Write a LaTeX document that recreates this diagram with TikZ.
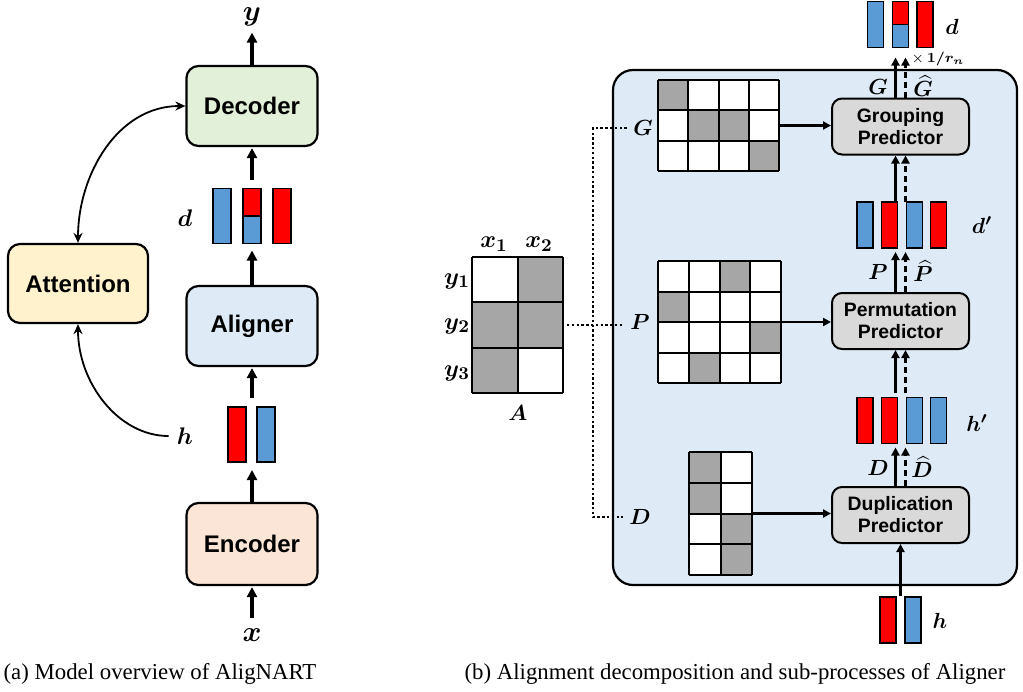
\documentclass[tikz,border=0pt]{standalone}
\usepackage{amsmath}
\usepackage{bm}
\usepackage{fontspec}
\setmainfont{Liberation Serif}
\setsansfont{Liberation Sans}
\usetikzlibrary{arrows.meta,calc}

\definecolor{barred}{HTML}{FF0000}
\definecolor{barblue}{HTML}{5B9BD5}
\definecolor{cellgray}{HTML}{A6A6A6}
\definecolor{decfill}{HTML}{E2F0D9}
\definecolor{attfill}{HTML}{FFF2CC}
\definecolor{alifill}{HTML}{DEEBF7}
\definecolor{encfill}{HTML}{FBE5D6}
\definecolor{predfill}{HTML}{D9D9D9}
\definecolor{bgblue}{HTML}{DEEAF6}

% cells of a binary alignment matrix: node, columns, rows, cell width, cell height, shaded cells
\newcommand\gridcells[6]{%
  \begin{scope}[shift={(#1.north west)}]
    \fill[white] (0,0) rectangle (#2*#4,#3*#5);
    \foreach \cx/\ry in {#6}
      \fill[cellgray] (\cx*#4,\ry*#5) rectangle ++(#4,#5);
    \foreach \i in {0,...,#2}
      \draw[gridline] (\i*#4,0) -- (\i*#4,#3*#5);
    \foreach \j in {0,...,#3}
      \draw[gridline] (0,\j*#5) -- (#2*#4,\j*#5);
  \end{scope}}

\begin{document}
\begin{tikzpicture}[x=0.5pt,y=-0.5pt,
  block/.style={draw, line width=1.1pt, rounded corners=6pt,
    font=\sffamily\bfseries\fontsize{12}{14}\selectfont,
    minimum width=65.5pt, minimum height=40pt, inner sep=0pt},
  pred/.style={draw, fill=predfill, line width=1pt, rounded corners=5pt,
    minimum width=68.5pt, minimum height=28pt, inner sep=0pt, align=center,
    font=\sffamily\bfseries\fontsize{9.7}{11}\selectfont},
  bar/.style={draw, line width=0.9pt, minimum width=9pt, minimum height=27.5pt,
    inner sep=0pt, outer sep=0pt},
  rbar/.style={bar, line width=0.8pt, minimum width=8pt, minimum height=23pt},
  barline/.style={line width=0.8pt},
  gridbox/.style={inner sep=0pt, outer sep=0pt},
  gridline/.style={line width=1pt},
  biglab/.style={inner sep=0pt, font=\fontsize{13.5}{16}\selectfont},
  mlab/.style={inner sep=0pt, font=\fontsize{12}{14}\selectfont},
  rlab/.style={inner sep=0pt, font=\fontsize{11}{13}\selectfont},
  alab/.style={inner sep=0pt, font=\fontsize{12.5}{14}\selectfont},
  slab/.style={inner sep=0pt, font=\fontsize{10.5}{12}\selectfont},
  arr/.style={line width=1.6pt, -{Triangle[length=5pt,width=5pt]}},
  rarr/.style={line width=1.1pt, -{Triangle[length=4pt,width=4pt]}},
  rdash/.style={rarr, dash pattern=on 3pt off 2pt},
  carr/.style={line width=0.9pt, {Stealth[length=5pt,width=4.5pt]}-{Stealth[length=5pt,width=4.5pt]}},
  carrend/.style={line width=0.9pt, -{Stealth[length=5pt,width=4.5pt]}},
  dots/.style={line width=1.2pt, dash pattern=on 1.2pt off 1.2pt},
  caption/.style={font=\fontsize{11.4}{14}\selectfont}
]
\useasboundingbox (0,0) rectangle (1023,691);

% ---------------- (a) model overview ----------------
\node[block, fill=decfill] (dec) at (252,106) {Decoder};
\node[block, fill=alifill] (ali) at (252,326) {Aligner};
\node[block, fill=encfill, minimum height=41pt] (enc) at (252,544) {Encoder};
\node[block, fill=attfill, minimum width=70pt, minimum height=39.5pt] (att) at (78,283.5) {Attention};

\node[biglab] (ylab) at (252,17) {$\bm{y}$};
\node[biglab] (xlab) at (252,635) {$\bm{x}$};
\node[mlab] (dlabA) at (185,218) {$\bm{d}$};
\node[mlab] (hlabA) at (185,436) {$\bm{h}$};

% output vectors d
\node[bar, fill=barblue] (dA) at (222,216) {};
\node[bar, fill=barblue] (dB) at (252,216) {};
\node[bar, fill=barred]  (dC) at (282,216) {};
\fill[barred] (dB.north west) rectangle (dB.east);
\draw[line width=0.9pt] (dB.north west) rectangle (dB.south east);
\draw[line width=0.9pt] (dB.west) -- (dB.east);

% encoder states h
\node[bar, fill=barred]  (hA) at (237,434.5) {};
\node[bar, fill=barblue] (hB) at (266,434.5) {};

\draw[arr, shorten >=3pt] (dec.north) -- (ylab.south);
\draw[arr, shorten <=4.5pt, shorten >=0.5pt] (dB.north) -- (dec.south);
\draw[arr, shorten >=3.5pt] (ali.north) -- (dB.south);
\draw[arr, shorten <=4.5pt, shorten >=0.5pt] (hA.north -| ali.south) -- (ali.south);
\draw[arr, shorten >=4pt] (enc.north) -- (enc.north |- hA.south);
\draw[arr, shorten <=5pt, shorten >=0.5pt] (xlab.north) -- (enc.south);

\draw[carr] (att.north) to[out=90,in=180] (dec.west);
\draw[carrend, shorten <=4pt] (hlabA.west) to[out=180,in=-90] (att.south);

\node[caption] (capa) at (160,674) {(a) Model overview of AligNART};

% ---------------- (b) aligner ----------------
\node[draw, line width=1.1pt, fill=bgblue, rounded corners=10pt,
  minimum width=202pt, minimum height=257.5pt, inner sep=0pt] (alibox) at (815,327.5) {};

\node[pred] (grp)  at (900.5,126.5) {Grouping\\Predictor};
\node[pred] (perm) at (900.5,321)   {Permutation\\Predictor};
\node[pred] (dup)  at (900.5,515)   {Duplication\\Predictor};

% alignment matrix A
\node[gridbox, minimum width=45.5pt, minimum height=68pt] (amat) at (517.5,325) {};
\gridcells{amat}{2}{3}{45.5}{45.33}{1/0,0/1,1/1,0/2}
\node[alab] (ax1) at (494,244) {$\bm{x_1}$};
\node[alab] (ax2) at (539,244) {$\bm{x_2}$};
\node[alab] (ay1) at (457,281) {$\bm{y_1}$};
\node[alab] (ay2) at (457,326) {$\bm{y_2}$};
\node[alab] (ay3) at (457,373) {$\bm{y_3}$};
\node[slab] (alab) at (518,413) {$\bm{A}$};

% decomposed matrices
\node[gridbox, minimum width=60.5pt, minimum height=45.5pt] (gmat) at (718.5,125.5) {};
\gridcells{gmat}{4}{3}{30.25}{30.33}{0/0,1/1,2/1,3/2}
\node[gridbox, minimum width=61.5pt, minimum height=61pt] (pmat) at (719.5,322) {};
\gridcells{pmat}{4}{4}{30.75}{30.5}{2/0,0/1,3/2,1/3}
\node[gridbox, minimum width=31.5pt, minimum height=61.5pt] (dmat) at (720.5,513.5) {};
\gridcells{dmat}{2}{4}{31.5}{30.75}{0/0,0/1,1/2,1/3}

\node[slab] (glab) at (643,128) {$\bm{G}$};
\node[slab] (plab) at (640,322) {$\bm{P}$};
\node[slab] (dlab) at (640,517) {$\bm{D}$};

\coordinate (vx) at (593,0);
\draw[dots, shorten <=3pt] (glab.west) -- (glab.west -| vx) -- (dlab.west -| vx) -- ([xshift=-3pt]dlab.west);
\draw[dots, shorten <=2pt, shorten >=3pt] (amat.east) -- (amat.east -| plab.west);

\draw[rarr] (gmat.east) -- (gmat.east -| grp.west);
\draw[rarr] (pmat.east) -- (pmat.east -| perm.west);
\draw[rarr] (dmat.east) -- (dmat.east -| dup.west);

% vector stacks
\node[rbar, fill=barblue] (tA) at (875.5,24.5) {};
\node[rbar, fill=barblue] (tB) at (900.5,24.5) {};
\node[rbar, fill=barred]  (tC) at (925,24.5) {};
\fill[barred] (tB.north west) rectangle (tB.east);
\draw[barline] (tB.north west) rectangle (tB.south east);
\draw[barline] (tB.west) -- (tB.east);

\node[rbar, fill=barblue] (pA) at (865,225) {};
\node[rbar, fill=barred]  (pB) at (889.5,225) {};
\node[rbar, fill=barblue] (pC) at (914.5,225) {};
\node[rbar, fill=barred]  (pD) at (938.5,225) {};

\node[rbar, fill=barred]  (qA) at (865,420.5) {};
\node[rbar, fill=barred]  (qB) at (889.5,420.5) {};
\node[rbar, fill=barblue] (qC) at (914.5,420.5) {};
\node[rbar, fill=barblue] (qD) at (938.5,420.5) {};

\node[rbar, fill=barred]  (rA) at (888,620) {};
\node[rbar, fill=barblue] (rB) at (913,620) {};

\node[rlab] (dlabB)  at (952,27)  {$\bm{d}$};
\node[rlab] (dplab)  at (982,225) {$\bm{d'}$};
\node[rlab] (hplab)  at (977,423) {$\bm{h'}$};
\node[rlab] (hlabB)  at (940,621) {$\bm{h}$};
\node[inner sep=0pt, font=\fontsize{7.5}{9}\selectfont] (scale) at (938,59) {$\times\,\bm{1/r_n}$};

\node[slab] (gl1) at (878,87)  {$\bm{G}$};
\node[slab] (gl2) at (923,86)  {$\widehat{\bm{G}}$};
\node[slab] (pl1) at (878,272) {$\bm{P}$};
\node[slab] (pl2) at (923,271) {$\widehat{\bm{P}}$};
\node[slab] (dl1) at (878,468) {$\bm{D}$};
\node[slab] (dl2) at (922,467) {$\widehat{\bm{D}}$};

% predictions (solid) and ground truth (dashed)
\draw[rarr, shorten >=5pt] ([xshift=-2.5pt]grp.north) -- ([xshift=-2.5pt]grp.north |- tB.south);
\draw[rdash, shorten >=5pt] ([xshift=2.5pt]grp.north) -- ([xshift=2.5pt]grp.north |- tB.south);
\draw[rarr] ([xshift=-2.5pt]grp.south |- pB.north) -- ([xshift=-2.5pt]grp.south);
\draw[rdash] ([xshift=2.5pt]grp.south |- pB.north) -- ([xshift=2.5pt]grp.south);

\draw[rarr, shorten >=2pt] ([xshift=-2.5pt]perm.north) -- ([xshift=-2.5pt]perm.north |- pB.south);
\draw[rdash, shorten >=2pt] ([xshift=2.5pt]perm.north) -- ([xshift=2.5pt]perm.north |- pB.south);
\draw[rarr, shorten <=2.5pt] ([xshift=-2.5pt]perm.south |- qB.north) -- ([xshift=-2.5pt]perm.south);
\draw[rdash, shorten <=2.5pt] ([xshift=2.5pt]perm.south |- qB.north) -- ([xshift=2.5pt]perm.south);

\draw[rarr, shorten >=2pt] ([xshift=-2.5pt]dup.north) -- ([xshift=-2.5pt]dup.north |- qB.south);
\draw[rdash, shorten >=2pt] ([xshift=2.5pt]dup.north) -- ([xshift=2.5pt]dup.north |- qB.south);
\draw[rarr, shorten <=0.5pt] (dup.south |- rA.north) -- (dup.south);

\node[caption] (capb) at (735,674) {(b) Alignment decomposition and sub-processes of Aligner};
\end{tikzpicture}
\end{document}
